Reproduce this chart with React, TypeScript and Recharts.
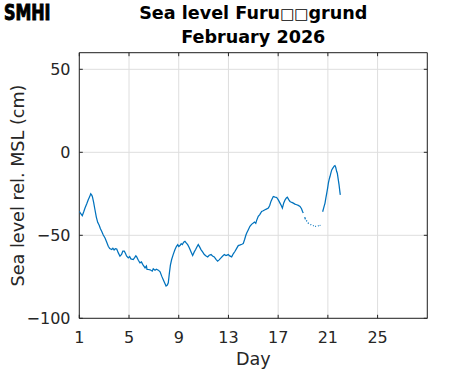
import React from 'react';
import { LineChart, Line, XAxis, YAxis, CartesianGrid, ReferenceArea } from 'recharts';

const TITLE_START = 'Sea level Furu';
const TITLE_MISSING = '\u25A1\u25A1';
const TITLE_END = 'grund';
const TITLE_LINE_2 = 'February 2026';
const X_LABEL = 'Day';
const Y_LABEL = 'Sea level rel. MSL (cm)';
const LOGO = 'SMHI';

const X_TICKS = [1, 5, 9, 13, 17, 21, 25];
const Y_TICKS = [-100, -50, 0, 50];
const X_DOMAIN = [1, 29];
const Y_DOMAIN = [-100, 60];

const DAYS = [
  1.0, 1.12, 1.24, 1.35, 1.46, 1.6, 1.72, 1.82, 1.92, 2.0, 2.05, 2.15, 2.26, 2.37, 2.48, 2.6, 2.7, 2.8, 2.93, 3.07,
  3.2, 3.33, 3.45, 3.61, 3.7, 3.8, 3.9, 4.01, 4.14, 4.27, 4.4, 4.5, 4.62, 4.72, 4.8, 4.94, 5.05, 5.15, 5.34, 5.45,
  5.55, 5.62, 5.75, 5.88, 6.0, 6.1, 6.29, 6.4, 6.45, 6.55, 6.7, 6.87, 6.95, 7.09, 7.2, 7.36, 7.5, 7.63, 7.8, 7.98,
  8.08, 8.16, 8.25, 8.33, 8.43, 8.56, 8.7, 8.82, 8.92, 9.0, 9.1, 9.2, 9.29, 9.4, 9.5, 9.6, 9.72, 9.82, 9.91, 10.02,
  10.12, 10.25, 10.36, 10.46, 10.57, 10.68, 10.79, 10.92, 11.06, 11.2, 11.33, 11.45, 11.6, 11.72, 11.86, 12.0, 12.13, 12.25, 12.4, 12.52,
  12.67, 12.8, 12.99, 13.1, 13.26, 13.4, 13.53, 13.65, 13.79, 13.95, 14.08, 14.19, 14.3, 14.4, 14.47, 14.6, 14.73, 14.86, 15.0, 15.1,
  15.2, 15.27, 15.4, 15.52, 15.67, 15.8, 15.94, 16.05, 16.21, 16.32, 16.42, 16.52, 16.61, 16.75, 16.88, 17.0, 17.15, 17.25, 17.34, 17.45,
  17.56, 17.66, 17.74, 17.85, 17.95, 18.1, 18.22, 18.35, 18.49, 18.62, 18.76, 18.88, 18.96, 19.02, 19.08, 19.14, 19.19, 19.22, 19.27, 19.31,
  19.35, 19.4, 19.45, 19.5, 19.6, 19.66, 19.72, 19.8, 19.86, 19.92, 19.98, 20.05, 20.12, 20.2, 20.26, 20.3, 20.34, 20.4, 20.48, 20.58,
  20.68, 20.77, 20.84, 20.91, 20.98, 21.04, 21.1, 21.17, 21.24, 21.31, 21.4, 21.52, 21.57, 21.63, 21.71, 21.76, 21.84, 21.9, 21.98, 22.0,
];

const LEVELS: (number | null)[] = [
  -35.6, -37.0, -38.2, -36.0, -33.6, -31.0, -28.6, -27.0, -25.0, -25.8, -26.6, -30.0, -34.6, -39.0, -42.2, -44.0, -46.0, -47.6, -49.8, -51.6,
  -54.0, -56.6, -58.0, -58.6, -57.8, -58.8, -58.0, -58.2, -60.6, -62.6, -61.5, -59.6, -59.6, -61.0, -62.4, -63.6, -62.8, -64.2, -64.6, -63.5,
  -62.4, -63.0, -65.0, -66.6, -66.0, -67.5, -69.6, -68.5, -70.5, -70.6, -70.8, -71.6, -70.2, -71.0, -70.4, -71.0, -72.0, -74.6, -77.5, -80.6,
  -80.0, -78.6, -72.6, -68.0, -64.6, -61.5, -58.6, -56.6, -55.6, -56.8, -56.2, -55.0, -55.6, -54.2, -53.6, -54.6, -55.6, -57.0, -58.6, -60.5,
  -62.2, -60.0, -58.6, -57.0, -55.6, -57.0, -58.6, -60.0, -61.6, -62.5, -63.0, -62.0, -61.6, -62.5, -63.0, -64.5, -65.6, -64.8, -63.6, -62.6,
  -61.6, -62.2, -61.6, -62.4, -63.0, -61.0, -59.6, -58.0, -56.2, -55.8, -55.4, -55.0, -52.5, -50.0, -48.6, -46.6, -44.6, -43.4, -42.6, -42.0,
  -42.8, -41.0, -38.6, -37.5, -35.6, -35.2, -34.6, -34.2, -33.6, -32.0, -29.6, -28.0, -26.6, -27.0, -27.2, -28.5, -30.6, -32.0, -33.6, -30.5,
  -28.6, -27.5, -27.0, -28.5, -29.6, -30.2, -30.6, -31.2, -31.6, -32.0, -32.6, -34.0, -35.6, -36.6, null, -39.0, -40.4, null, -41.0, -41.6,
  null, -42.4, -43.0, null, -43.4, -43.8, null, -44.1, -44.3, null, -44.6, -44.6, null, -44.4, -44.2, null, -44.1, -44.0, null, -35.8,
  -33.0, -30.6, -27.5, -24.6, -21.6, -18.6, -16.5, -14.6, -12.5, -10.6, -9.5, -8.2, -8.0, -9.0, -11.6, -12.6, -16.6, -19.6, -24.6, -25.6,
];

const data = DAYS.map((d, i) => ({ day: d, level: LEVELS[i] }));

const W = 471;
const H = 371;
const PLOT_LEFT = 79.3;
const PLOT_TOP = 52.7;
const PLOT_RIGHT = 427.3;
const PLOT_BOTTOM = 318.3;
const TICK = 3.5;
const AXIS = '#262626';
const GRID = '#dedede';
const LINE = '#0072BD';
const FONT = '"DejaVu Sans", sans-serif';

const fmt = (v: number) => (v < 0 ? '\u2212' + Math.abs(v) : String(v));

const XTick = (p: any) => {
  const x = p.x;
  return (
    <g>
      <line x1={x} x2={x} y1={PLOT_BOTTOM} y2={PLOT_BOTTOM - TICK} stroke={AXIS} strokeWidth={1} />
      <line x1={x} x2={x} y1={PLOT_TOP} y2={PLOT_TOP + TICK} stroke={AXIS} strokeWidth={1} />
      <text x={x} y={342.7} textAnchor="middle" fontSize={16} fill={AXIS} fontFamily={FONT}>
        {fmt(p.payload.value)}
      </text>
    </g>
  );
};

const YTick = (p: any) => {
  const y = p.y;
  return (
    <g>
      <line x1={PLOT_LEFT} x2={PLOT_LEFT + TICK} y1={y} y2={y} stroke={AXIS} strokeWidth={1} />
      <line x1={PLOT_RIGHT} x2={PLOT_RIGHT - TICK} y1={y} y2={y} stroke={AXIS} strokeWidth={1} />
      <text x={70.5} y={y + 5.8} textAnchor="end" fontSize={16} fill={AXIS} fontFamily={FONT}>
        {fmt(p.payload.value)}
      </text>
    </g>
  );
};

export default function App() {
  return (
    <div style={{ position: 'absolute', left: 0, top: 0, width: W, height: H, background: '#fff' }}>
      <LineChart
        width={W}
        height={H}
        data={data}
        margin={{ top: PLOT_TOP, right: W - PLOT_RIGHT, left: 0, bottom: 0 }}
      >
        <CartesianGrid stroke={GRID} strokeWidth={1} />
        <XAxis
          dataKey="day"
          type="number"
          domain={X_DOMAIN}
          ticks={X_TICKS}
          allowDataOverflow
          height={H - PLOT_BOTTOM}
          axisLine={false}
          tickLine={false}
          tick={<XTick />}
          interval={0}
        />
        <YAxis
          type="number"
          domain={Y_DOMAIN}
          ticks={Y_TICKS}
          allowDataOverflow
          width={PLOT_LEFT}
          axisLine={false}
          tickLine={false}
          tick={<YTick />}
          interval={0}
        />
        <Line
          type="linear"
          dataKey="level"
          stroke={LINE}
          strokeWidth={1.25}
          dot={false}
          connectNulls={false}
          isAnimationActive={false}
        />
        <ReferenceArea
          x1={X_DOMAIN[0]}
          x2={X_DOMAIN[1]}
          y1={Y_DOMAIN[0]}
          y2={Y_DOMAIN[1]}
          fill="none"
          fillOpacity={0}
          stroke={AXIS}
          strokeWidth={1}
          ifOverflow="visible"
        />
      </LineChart>
      <svg
        width={W}
        height={H}
        style={{ position: 'absolute', left: 0, top: 0, pointerEvents: 'none' }}
      >
        <text
          x={4}
          y={20}
          fontSize={20.5}
          fontWeight="bold"
          fontFamily='"DejaVu Sans Condensed", "DejaVu Sans", sans-serif'
          textLength={46.5}
          lengthAdjust="spacingAndGlyphs"
          fill="#000"
          stroke="#000"
          strokeWidth={0.9}
        >
          {LOGO}
        </text>
        <text x={253.3} y={19.3} textAnchor="middle" fontSize={17.6} fontWeight="bold" fill="#000" fontFamily={FONT}>
          {TITLE_START}
          <tspan fontWeight="normal" fontSize={15}>{TITLE_MISSING}</tspan>
          {TITLE_END}
        </text>
        <text x={253.3} y={42.6} textAnchor="middle" fontSize={17.6} fontWeight="bold" fill="#000" fontFamily={FONT}>
          {TITLE_LINE_2}
        </text>
        <text x={253.3} y={365} textAnchor="middle" fontSize={17.6} fill={AXIS} fontFamily={FONT}>
          {X_LABEL}
        </text>
        <text
          x={0}
          y={0}
          transform={`translate(24, 185.5) rotate(-90)`}
          textAnchor="middle"
          fontSize={17.6}
          fill={AXIS}
          fontFamily={FONT}
        >
          {Y_LABEL}
        </text>
      </svg>
    </div>
  );
}
